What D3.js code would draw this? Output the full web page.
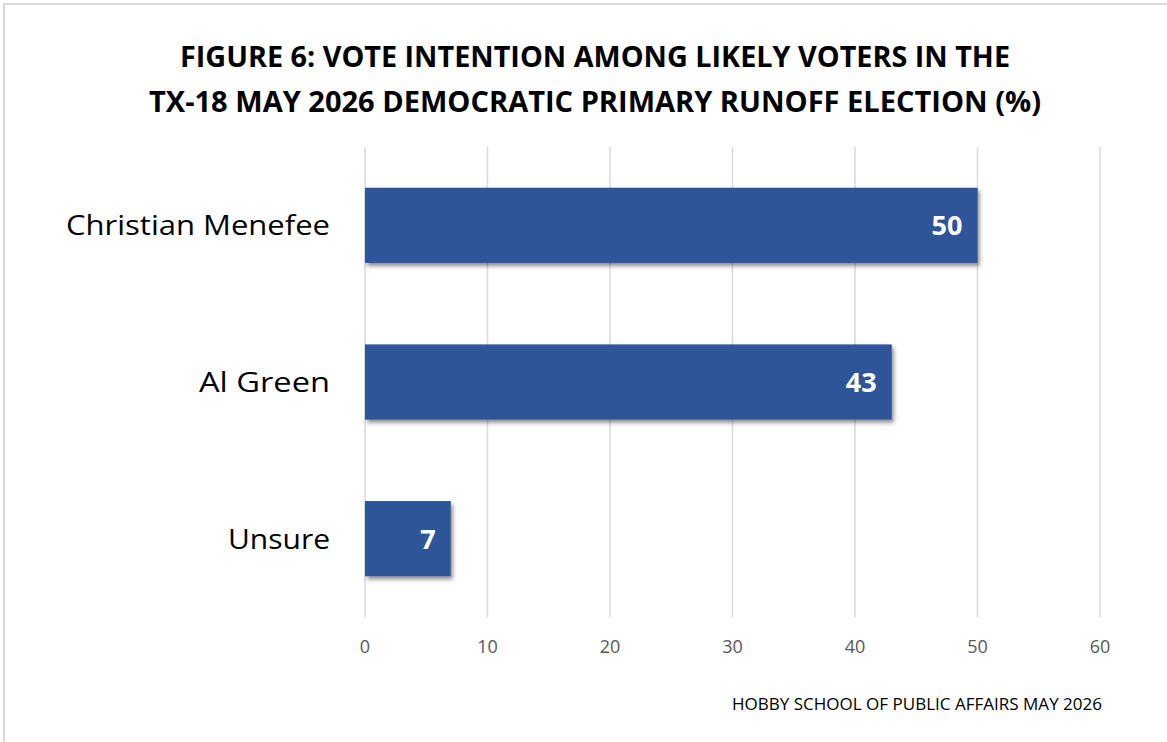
<!DOCTYPE html>
<html><head><meta charset="utf-8">
<script src="https://cdn.jsdelivr.net/npm/d3@7"></script>
<style>body{margin:0;background:#fff}svg{display:block}text{font-family:"Open Sans",sans-serif}</style>
</head><body><svg id="c" width="1167" height="742"></svg>
<script>
const categories = ["Christian Menefee", "Al Green", "Unsure"];
const values = [50, 43, 7];
const xTicks = [0, 10, 20, 30, 40, 50, 60];
const titleLines = ["FIGURE 6: VOTE INTENTION AMONG LIKELY VOTERS IN THE", "TX-18 MAY 2026 DEMOCRATIC PRIMARY RUNOFF ELECTION (%)"];
const footer = "HOBBY SCHOOL OF PUBLIC AFFAIRS MAY 2026";

const svg = d3.select("#c");
svg.append("rect").attr("x",4).attr("y",4).attr("width",1200).attr("height",800)
  .attr("fill","#fff").attr("stroke","#d9d9d9").attr("stroke-width",2);

const defs = svg.append("defs");
defs.append("filter").attr("id","sh").attr("x","-10%").attr("y","-20%").attr("width","130%").attr("height","150%")
  .append("feDropShadow").attr("dx",2).attr("dy",3).attr("stdDeviation",2.2)
  .attr("flood-color","#000").attr("flood-opacity",0.45);

const x = d3.scaleLinear().domain([0,60]).range([365,1100]);
const y = d3.scaleBand().domain(categories).range([147,617]).paddingInner(0.52).paddingOuter(0.26);

// gridlines
svg.append("g").selectAll("line").data(xTicks).join("line")
  .attr("x1",d=>x(d)).attr("x2",d=>x(d)).attr("y1",147).attr("y2",617)
  .attr("stroke","#d9d9d9").attr("stroke-width",1.5);

// tick labels
svg.append("g").selectAll("text").data(xTicks).join("text")
  .attr("x",d=>x(d)).attr("y",653).attr("text-anchor","middle")
  .attr("font-size",18).attr("fill","#595959").text(d=>d);

// bars
const data = categories.map((c,i)=>({c, v: values[i]}));
svg.append("g").selectAll("rect").data(data).join("rect")
  .attr("x",x(0)).attr("y",d=>y(d.c)).attr("width",d=>x(d.v)-x(0)).attr("height",y.bandwidth())
  .attr("fill","#2F5597").attr("filter","url(#sh)");

// value labels
svg.append("g").selectAll("text").data(data).join("text")
  .attr("x",d=>x(d.v)-15).attr("y",d=>y(d.c)+y.bandwidth()/2).attr("dy","0.37em")
  .attr("text-anchor","end").attr("font-size",27).attr("font-weight","bold").attr("fill","#fff")
  .text(d=>d.v);

// category labels
svg.append("g").selectAll("text").data(categories).join("text")
  .attr("x",330).attr("y",d=>y(d)+y.bandwidth()/2).attr("dy","0.36em")
  .attr("text-anchor","end").attr("font-size",28).attr("fill","#000")
  .attr("textLength", (d,i)=>[264,131,102][i]).attr("lengthAdjust","spacingAndGlyphs")
  .text(d=>d);

// title
svg.append("g").selectAll("text").data(titleLines).join("text")
  .attr("x",595).attr("y",(d,i)=>[67,112][i]).attr("text-anchor","middle")
  .attr("font-size",29).attr("font-weight","bold").attr("fill","#000")
  .attr("textLength",(d,i)=>[830,892][i]).attr("lengthAdjust","spacingAndGlyphs")
  .text(d=>d);

// footer
svg.append("text").attr("x",1102).attr("y",710).attr("text-anchor","end")
  .attr("font-size",17).attr("fill","#000")
  .attr("textLength",370).attr("lengthAdjust","spacingAndGlyphs").text(footer);
</script></body></html>
